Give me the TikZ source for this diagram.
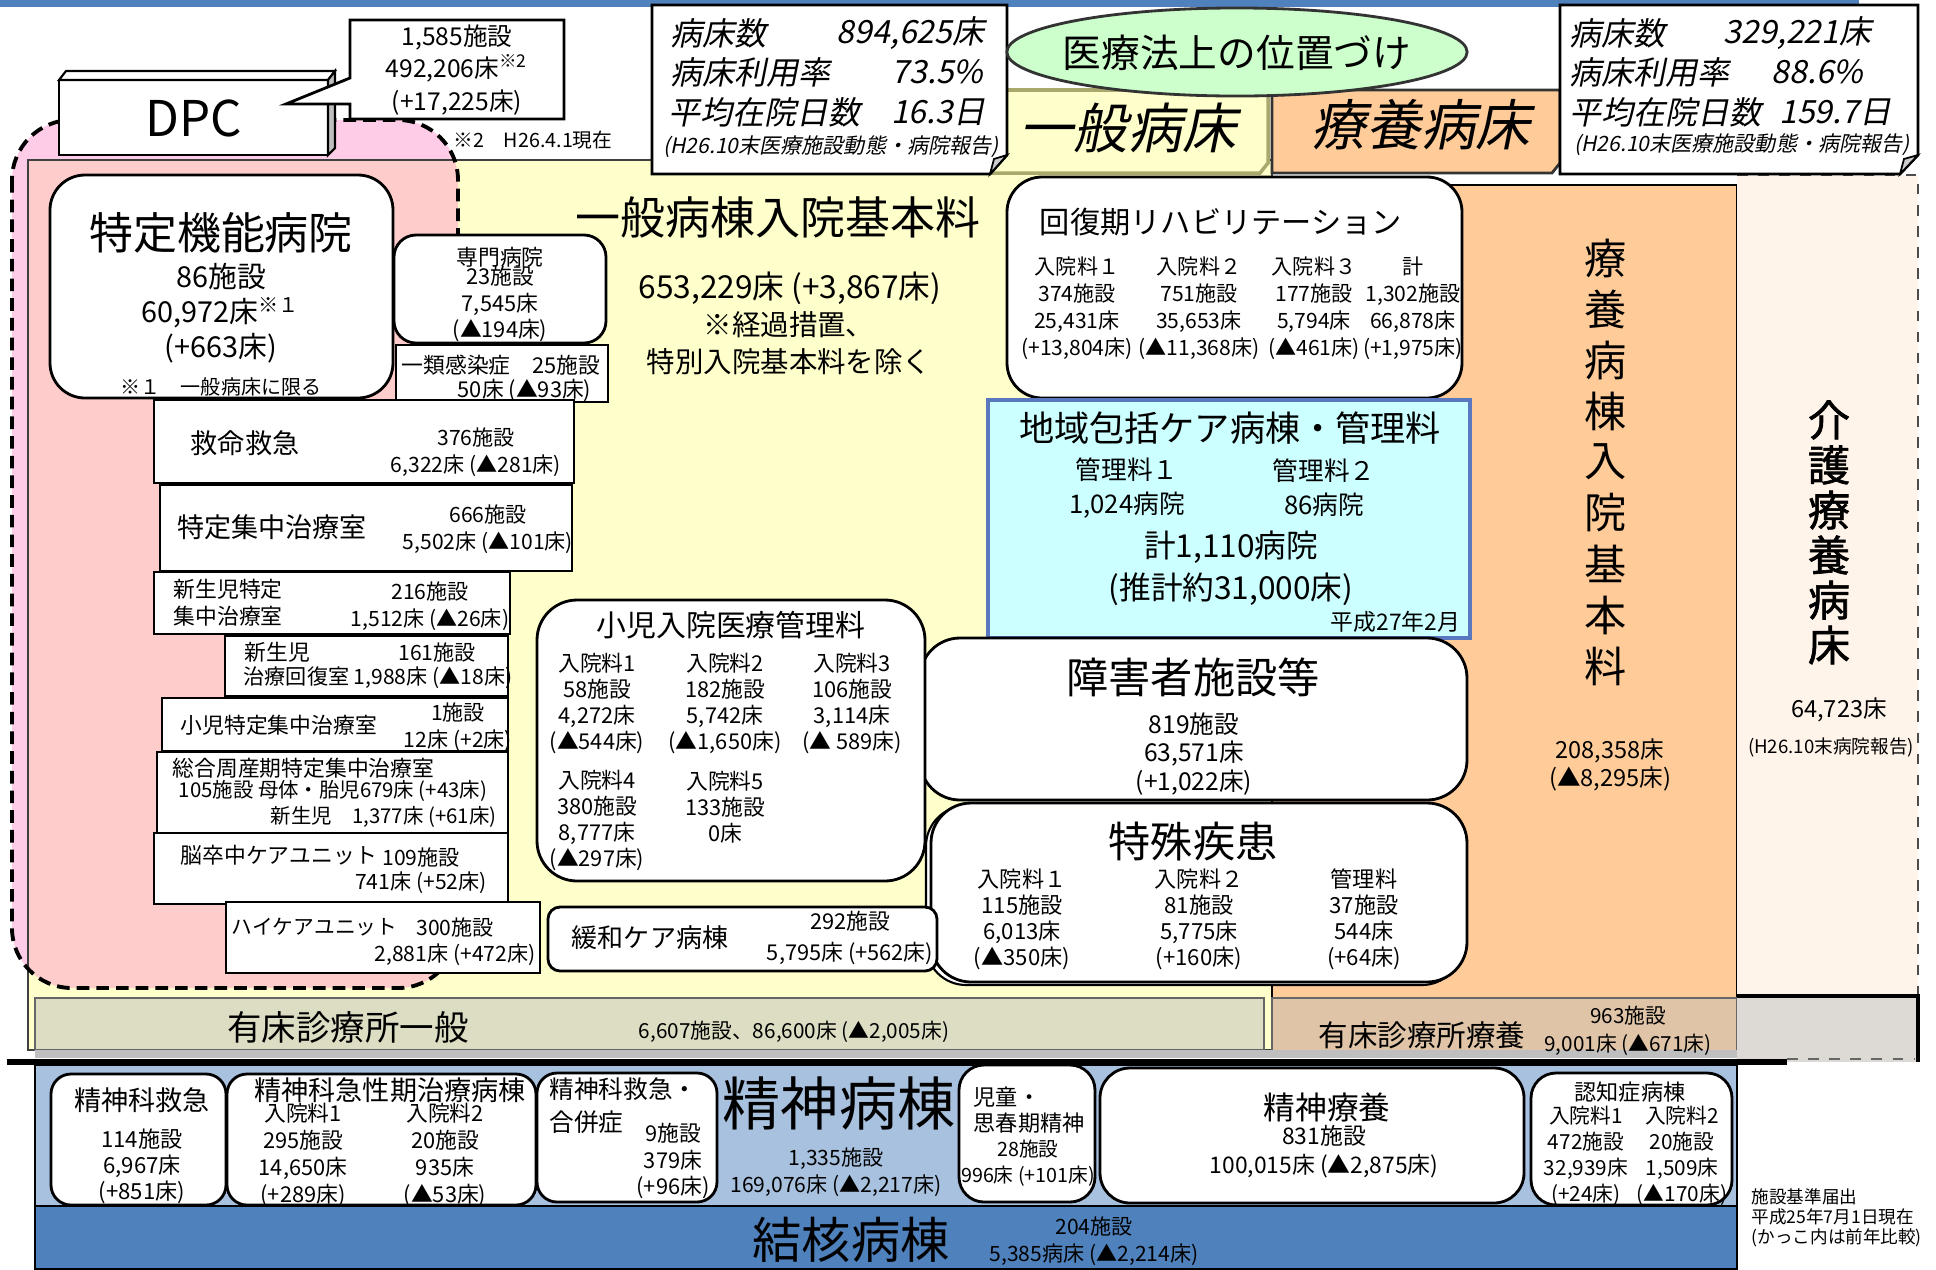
\documentclass[tikz,border=0pt]{standalone}
\usepackage{fontspec}
\setmainfont{Noto Sans CJK JP}
\newfontfamily\slnt[FakeSlant=0.2]{Noto Sans CJK JP}
\newfontfamily\bldf[FakeBold=1.5]{Noto Sans CJK JP}
\usepackage{tikz}
\newcommand{\fs}[2]{\fontsize{#1}{#2}\selectfont}
\definecolor{topblue}{HTML}{4F81BD}
\definecolor{dpcpink}{HTML}{FFCCE8}
\definecolor{dpcsalmon}{HTML}{FFCCCC}
\definecolor{genyellow}{HTML}{FFFFCC}
\definecolor{ryoorange}{HTML}{FFCC99}
\definecolor{kaigobg}{HTML}{FFF4EA}
\definecolor{lawgreen}{HTML}{CCFFCC}
\definecolor{chiikicyan}{HTML}{CCFFFF}
\definecolor{chiikiline}{HTML}{5A78C0}
\definecolor{bandgen}{HTML}{DDDDC4}
\definecolor{bandryo}{HTML}{DFC4A8}
\definecolor{bandgrey}{HTML}{DDDAD6}
\definecolor{psyblue}{HTML}{A8C1DF}
\definecolor{lblline}{HTML}{A9A96E}

\begin{document}
\begin{tikzpicture}[x=0.01cm,y=-0.01cm,
  every node/.style={inner sep=0pt,align=center},
  wbox/.style={draw=black,fill=white,line width=0.8pt},
  sm/.style={font=\fs{6.2}{7.6}},
  stat/.style={font=\slnt\fs{9.1}{11}}]
\useasboundingbox (0,0) rectangle (1936,1269);
% top bar
\fill[topblue] (0,0) rectangle (1859,7);
% DPC region and general beds area
\fill[dpcpink, rounded corners=0.6cm] (12,120) rectangle (458,988);
\fill[genyellow] (28,160) rectangle (1272,1050);
\begin{scope}
  \clip (28,160) rectangle (1272,1050);
  \fill[dpcsalmon, rounded corners=0.6cm] (12,120) rectangle (458,988);
\end{scope}
\draw[black!75, line width=0.7pt] (28,160) rectangle (1272,1050);
% long-term care area
\filldraw[fill=ryoorange, draw=black, line width=0.8pt] (1272,185) rectangle (1737,1000);
\fill[kaigobg] (1737,175) rectangle (1918,996);
\draw[black!70, dashed, line width=0.7pt] (1737,175) -- (1918,175) -- (1918,996);
\draw[line width=1.1pt, dash pattern=on 3.6pt off 2pt, rounded corners=0.6cm] (12,120) rectangle (458,988);
% clinic bands
\filldraw[fill=bandgen, draw=black!60, line width=0.8pt] (35,998) rectangle (1264,1050);
\filldraw[fill=bandryo, draw=black!60, line width=0.8pt] (1272,998) rectangle (1737,1057);
\fill[bandgrey] (1737,996) rectangle (1918,1062);
\draw[line width=0.9pt] (1737,996) -- (1918,996) -- (1918,1062);
\draw[black!60, dashed] (1787,1059) -- (1915,1059);
\fill[black!25] (35,1050) rectangle (1737,1058);
\draw[line width=1.5pt] (7,1062) -- (1787,1062);
% psychiatric and tuberculosis bands
\filldraw[fill=psyblue, draw=black, line width=0.8pt] (35,1065) rectangle (1737,1206);
\filldraw[fill=topblue, draw=black, line width=0.8pt] (35,1206) rectangle (1737,1269);

% header labels
\filldraw[fill=genyellow, draw=lblline, line width=1pt] (975,90) -- (1268,90) -- (1268,163) -- (1260,173) -- (975,173) -- cycle;
\node[font=\slnt\fs{15.4}{17}] (genlbl) at (1128,128) {一般病床};
\filldraw[fill=ryoorange, draw=black!80, line width=0.8pt] (1272,90) -- (1560,90) -- (1560,163) -- (1552,173) -- (1272,173) -- cycle;
\node[font=\slnt\fs{15.6}{17}] (ryolbl) at (1421,125) {療養病床};
% stats boxes
\filldraw[fill=white, draw=black, line width=0.8pt] (652,5) -- (1007,5) -- (1007,155) -- (990,174) -- (652,174) -- cycle;
\filldraw[fill=black!20, draw=black, line width=0.5pt] (1007,155) -- (990,174) -- (994,159) -- cycle;
\node[anchor=west, stat] (gA) at (670,33) {病床数};
\node[anchor=east, stat] (gAv) at (985,33) {894,625床};
\node[anchor=west, stat] (gB) at (670,72) {病床利用率};
\node[anchor=east, stat] (gBv) at (984,72) {73.5\%};
\node[anchor=west, stat] (gC) at (668,112) {平均在院日数};
\node[anchor=east, stat] (gCv) at (986,112) {16.3日};
\node[font=\slnt\fs{6}{7}] (gSrc) at (831,147) {(H26.10末医療施設動態・病院報告)};
\filldraw[fill=white, draw=black, line width=0.8pt] (1560,5) -- (1918,5) -- (1918,155) -- (1900,174) -- (1560,174) -- cycle;
\filldraw[fill=black!20, draw=black, line width=0.5pt] (1918,155) -- (1900,174) -- (1904,159) -- cycle;
\node[anchor=west, stat] (rA) at (1569,33) {病床数};
\node[anchor=east, stat] (rAv) at (1872,33) {329,221床};
\node[anchor=west, stat] (rB) at (1569,72) {病床利用率};
\node[anchor=east, stat] (rBv) at (1864,72) {88.6\%};
\node[anchor=west, stat] (rC) at (1569,112) {平均在院日数};
\node[anchor=east, stat] (rCv) at (1892,112) {159.7日};
\node[font=\slnt\fs{6}{7}] (rSrc) at (1742,145) {(H26.10末医療施設動態・病院報告)};
% legal position
\filldraw[fill=lawgreen, draw=black!80, line width=0.8pt] (1237,52) ellipse [x radius=2.3cm, y radius=0.44cm];
\node[font=\fs{11}{13}] (law) at (1237,53) {医療法上の位置づけ};

% DPC box and callout
\filldraw[fill=white, draw=black, line width=0.8pt] (59,80) rectangle (328,155);
\filldraw[fill=white, draw=black, line width=0.6pt] (59,80) -- (66,71) -- (335,71) -- (328,80) -- cycle;
\filldraw[fill=black!25, draw=black, line width=0.6pt] (328,80) -- (335,71) -- (335,148) -- (328,155) -- cycle;
\node[font=\fs{14}{16}] (dpc) at (194,118) {DPC};
\filldraw[fill=white, draw=black, line width=0.8pt] (350,20) -- (564,20) -- (564,119) -- (350,119) -- (350,104) -- (286,104) -- (350,78) -- cycle;
\node[font=\fs{7}{9.3}] (dpcN) at (457,70) {1,585施設\\492,206床\textsuperscript{※2}\\(+17,225床)};
\node[font=\fs{5.6}{7}] (dpcNote) at (533,140) {※2　H26.4.1現在};

% advanced treatment hospitals and units
\draw[wbox, rounded corners=0.35cm] (50,175) rectangle (393,398);
\node[font=\fs{12.5}{14}] (tokutei) at (221,233) {特定機能病院};
\node[font=\fs{8.2}{10}] (tokuteiN) at (221,313) {86施設\\60,972床\textsuperscript{※１}\\(+663床)};
\node[font=\fs{5.7}{7}] (tokuteiNote) at (221,387) {※１　一般病床に限る};
\draw[wbox, rounded corners=0.22cm] (394,235) rectangle (606,343);
\node[sm] (senmon) at (500,257) {専門病院};
\node[sm] (senmonN) at (500,304) {23施設\\7,545床\\(▲194床)};
\draw[wbox] (396,345) rectangle (608,402);
\node[sm, anchor=west] (ichirui) at (401,365) {一類感染症　25施設};
\node[sm, anchor=east] (ichiruiN) at (592,390) {50床 (▲93床)};
\draw[wbox] (154,400) rectangle (574,483);
\node[font=\fs{7.7}{9}] (kyumei) at (245,443) {救命救急};
\node[font=\fs{6}{7.8}] (kyumeiN) at (476,452) {376施設\\6,322床 (▲281床)};
\draw[wbox] (160,485) rectangle (572,571);
\node[font=\fs{7.7}{9}] (icu) at (272,527) {特定集中治療室};
\node[font=\fs{6}{7.8}] (icuN) at (488,529) {666施設\\5,502床 (▲101床)};
\draw[wbox] (154,572) rectangle (510,634);
\node[font=\fs{6.2}{7.7}, anchor=west, align=left] (nicu) at (173,603) {新生児特定\\集中治療室};
\node[font=\fs{6}{7.8}] (nicuN) at (430,606) {216施設\\1,512床 (▲26床)};
\draw[wbox] (225,636) rectangle (508,696);
\node[sm, anchor=west] (gcu) at (244,652) {新生児};
\node[font=\fs{6}{7}] (gcuA) at (437,652) {161施設};
\node[font=\fs{6}{7}, anchor=west] (gcuB) at (243,678) {治療回復室 1,988床 (▲18床)};
\draw[wbox] (162,698) rectangle (508,751);
\node[sm, anchor=west] (picu) at (180,725) {小児特定集中治療室};
\node[font=\fs{6}{7.7}] (picuN) at (458,727) {1施設\\12床 (+2床)};
\draw[wbox] (157,752) rectangle (508,833);
\node[sm, anchor=west] (mficu) at (172,768) {総合周産期特定集中治療室};
\node[font=\fs{5.8}{7}, anchor=west] (mficuA) at (178,791) {105施設 母体・胎児679床 (+43床)};
\node[font=\fs{5.8}{7}, anchor=west] (mficuB) at (270,817) {新生児　1,377床 (+61床)};
\draw[wbox] (154,833) rectangle (508,904);
\node[sm, anchor=west] (scu) at (180,855) {脳卒中ケアユニット};
\node[font=\fs{6}{7}] (scuA) at (421,857) {109施設};
\node[font=\fs{6}{7}] (scuB) at (421,883) {741床 (+52床)};
\draw[wbox] (226,902) rectangle (540,973);
\node[font=\fs{5.9}{7}, anchor=west] (hcu) at (231,927) {ハイケアユニット};
\node[font=\fs{6}{7}] (hcuA) at (455,927) {300施設};
\node[font=\fs{6}{7}] (hcuB) at (455,955) {2,881床 (+472床)};

% general ward basic fee
\node[font=\fs{12.8}{15}] (ippan) at (778,217) {一般病棟入院基本料};
\node[font=\fs{9}{10}] (ippanN) at (790,288) {653,229床 (+3,867床)};
\node[font=\fs{8.1}{10.5}] (ippanNote) at (789,343) {※経過措置、\\特別入院基本料を除く};
% recovery rehabilitation
\draw[wbox, rounded corners=0.35cm] (1007,177) rectangle (1462,398);
\node[font=\fs{8.6}{10}] (kaifuku) at (1221,222) {回復期リハビリテーション};
\node[font=\fs{6}{7.7}] (kaifukuA) at (1077,308) {入院料１\\374施設\\25,431床\\(+13,804床)};
\node[font=\fs{6}{7.7}] (kaifukuB) at (1199,308) {入院料２\\751施設\\35,653床\\(▲11,368床)};
\node[font=\fs{6}{7.7}] (kaifukuC) at (1314,308) {入院料３\\177施設\\5,794床\\(▲461床)};
\node[font=\fs{6}{7.7}] (kaifukuD) at (1413,308) {計\\1,302施設\\66,878床\\(+1,975床)};
% community care
\filldraw[fill=chiikicyan, draw=chiikiline, line width=1.3pt] (988,400) rectangle (1470,638);
\node[font=\fs{10}{12}] (chiiki) at (1230,428) {地域包括ケア病棟・管理料};
\node[font=\fs{7.3}{9.6}] (chiikiA) at (1127,488) {管理料１\\1,024病院};
\node[font=\fs{7.3}{9.6}] (chiikiB) at (1324,488) {管理料２\\86病院};
\node[font=\fs{9}{12}] (chiikiC) at (1231,568) {計1,110病院\\(推計約31,000床)};
\node[font=\fs{6.5}{7}, anchor=east] (chiikiD) at (1461,622) {平成27年2月};
% disabled persons and special diseases
\draw[wbox, rounded corners=0.4cm] (920,638) rectangle (1467,800);
\node[font=\fs{12}{14}] (shogai) at (1193,677) {障害者施設等};
\node[font=\fs{7}{8.1}] (shogaiN) at (1194,754) {819施設\\63,571床\\(+1,022床)};
\draw[wbox, line width=0.6pt, rounded corners=0.4cm] (926,806) rectangle (1462,985);
\draw[wbox, rounded corners=0.4cm] (931,803) rectangle (1467,982);
\node[font=\fs{12}{14}] (tokushu) at (1193,842) {特殊疾患};
\node[font=\fs{6.3}{7.4}] (tokushuA) at (1022,919) {入院料１\\115施設\\6,013床\\(▲350床)};
\node[font=\fs{6.3}{7.4}] (tokushuB) at (1199,919) {入院料２\\81施設\\5,775床\\(+160床)};
\node[font=\fs{6.3}{7.4}] (tokushuC) at (1364,919) {管理料\\37施設\\544床\\(+64床)};
% pediatric
\draw[wbox, rounded corners=0.4cm] (537,600) rectangle (925,881);
\node[font=\fs{8.5}{10}] (shoni) at (731,625) {小児入院医療管理料};
\node[font=\fs{6.2}{7.4}] (shoniA) at (597,703) {入院料1\\58施設\\4,272床\\(▲544床)};
\node[font=\fs{6.2}{7.4}] (shoniB) at (725,703) {入院料2\\182施設\\5,742床\\(▲1,650床)};
\node[font=\fs{6.2}{7.4}] (shoniC) at (852,703) {入院料3\\106施設\\3,114床\\(▲ 589床)};
\node[font=\fs{6.2}{7.4}] (shoniD) at (597,820) {入院料4\\380施設\\8,777床\\(▲297床)};
\node[font=\fs{6.2}{7.4}] (shoniE) at (725,807) {入院料5\\133施設\\0床};
% palliative care
\draw[wbox, rounded corners=0.12cm] (548,907) rectangle (937,971);
\node[font=\fs{7.4}{9}] (kanwa) at (650,938) {緩和ケア病棟};
\node[font=\fs{6.2}{8.8}] (kanwaN) at (850,938) {292施設\\5,795床 (+562床)};

% long-term care ward text
\foreach \c [count=\i] in {療,養,病,棟,入,院,基,本,料}
  \node[font=\fs{12}{12}] (ryoC\i) at (1606,207+51*\i) {\c};
\node[font=\fs{6.7}{8}] (ryoN) at (1610,765) {208,358床\\(▲8,295床)};
\foreach \c [count=\i] in {介,護,療,養,病,床}
  \node[font=\bldf\fs{12}{12}] (kaigoC\i) at (1829,375+45*\i) {\c};
\node[font=\fs{6.7}{8}] (kaigoN) at (1839,710) {64,723床};
\node[font=\fs{5.3}{6}] (kaigoSrc) at (1831,747) {(H26.10末病院報告)};

% clinics
\node[font=\fs{9.8}{11}] (clinicG) at (348,1027) {有床診療所一般};
\node[font=\fs{5.9}{7}] (clinicGN) at (794,1032) {6,607施設、86,600床 (▲2,005床)};
\node[font=\fs{8.4}{10}] (clinicR) at (1422,1035) {有床診療所療養};
\node[font=\fs{5.9}{8}] (clinicRN) at (1628,1031) {963施設\\9,001床 (▲671床)};

% psychiatric wards
\draw[wbox, rounded corners=0.2cm] (51,1074) rectangle (226,1205);
\node[font=\fs{7.7}{9}] (pq) at (142,1100) {精神科救急};
\node[font=\fs{6.3}{7.4}] (pqN) at (142,1166) {114施設\\6,967床\\(+851床)};
\draw[wbox, rounded corners=0.2cm] (227,1074) rectangle (536,1205);
\node[font=\fs{7.7}{9}] (pa) at (390,1090) {精神科急性期治療病棟};
\node[font=\fs{6.2}{7.6}] (paA) at (303,1155) {入院料1\\295施設\\14,650床\\(+289床)};
\node[font=\fs{6.2}{7.6}] (paB) at (445,1155) {入院料2\\20施設\\935床\\(▲53床)};
\draw[wbox, rounded corners=0.2cm] (537,1073) rectangle (717,1202);
\node[font=\fs{7}{9.4}, anchor=west, align=left] (pc) at (549,1106) {精神科救急・\\合併症};
\node[font=\fs{6.2}{7.6}] (pcN) at (673,1161) {9施設\\379床\\(+96床)};
\node[font=\fs{16.5}{18}] (psy) at (839,1103) {精神病棟};
\node[font=\fs{6}{7.7}] (psyN) at (836,1172) {1,335施設\\169,076床 (▲2,217床)};
\draw[wbox, rounded corners=0.25cm] (959,1065) rectangle (1095,1202);
\node[font=\fs{6.3}{7.4}, anchor=west, align=left] (jido) at (973,1110) {児童・\\思春期精神};
\node[font=\fs{5.6}{7.6}] (jidoN) at (1028,1163) {28施設\\996床 (+101床)};
\draw[wbox, rounded corners=0.3cm] (1100,1068) rectangle (1524,1203);
\node[font=\fs{9}{10}] (pr) at (1327,1107) {精神療養};
\node[font=\fs{6.5}{8.2}] (prN) at (1324,1152) {831施設\\100,015床 (▲2,875床)};
\draw[wbox, rounded corners=0.25cm] (1531,1073) rectangle (1732,1205);
\node[font=\fs{6.3}{7}] (dem) at (1630,1092) {認知症病棟};
\node[font=\fs{5.9}{7.4}] (demA) at (1586,1156) {入院料1\\472施設\\32,939床\\(+24床)};
\node[font=\fs{5.9}{7.4}] (demB) at (1682,1156) {入院料2\\20施設\\1,509床\\(▲170床)};
% tuberculosis
\node[font=\fs{14}{16}] (tb) at (851,1240) {結核病棟};
\node[font=\fs{6}{7.8}] (tbN) at (1094,1241) {204施設\\5,385病床 (▲2,214床)};
% note
\node[font=\fs{5}{5.7}, anchor=west, align=left] (note) at (1751,1218) {施設基準届出\\平成25年7月1日現在\\(かっこ内は前年比較)};
\end{tikzpicture}
\end{document}
